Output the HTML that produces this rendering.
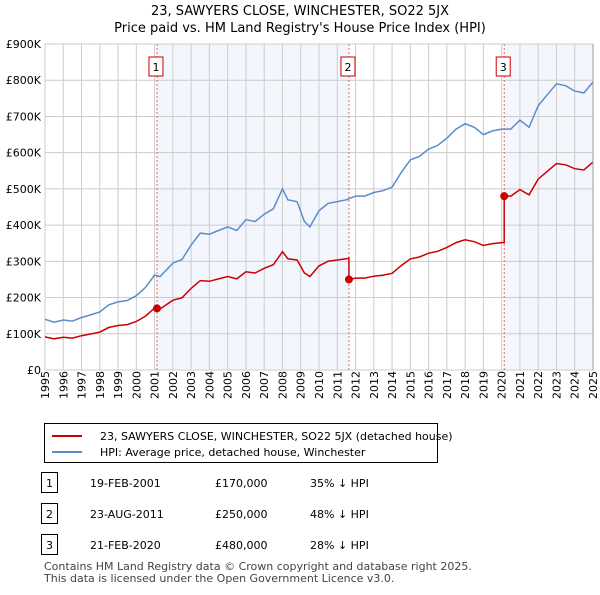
<!DOCTYPE html>
<html><head><meta charset="utf-8"><style>
body{margin:0;background:#fff;font-family:"Liberation Sans","DejaVu Sans",sans-serif;}
svg text{font-family:"DejaVu Sans","Liberation Sans",sans-serif;}
</style></head><body>
<svg id="c" width="600" height="590" xmlns="http://www.w3.org/2000/svg">
<text x="300" y="15" text-anchor="middle" font-size="13">23, SAWYERS CLOSE, WINCHESTER, SO22 5JX</text>
<text x="300" y="32" text-anchor="middle" font-size="13">Price paid vs. HM Land Registry's House Price Index (HPI)</text>
<g id="plot"></g>
<g>
<rect x="44.5" y="423.5" width="393" height="39" fill="#fff" stroke="#000"/>
<line x1="52" y1="436" x2="82" y2="436" stroke="#cc0000" stroke-width="2"/>
<text x="100" y="440" font-size="11">23, SAWYERS CLOSE, WINCHESTER, SO22 5JX (detached house)</text>
<line x1="52" y1="452" x2="82" y2="452" stroke="#5b8ccc" stroke-width="2"/>
<text x="100" y="456" font-size="11">HPI: Average price, detached house, Winchester</text>
</g>
<g id="table" font-size="11"></g>
<text x="44" y="570" font-size="11" fill="#444">Contains HM Land Registry data © Crown copyright and database right 2025.</text>
<text x="44" y="582" font-size="11" fill="#444">This data is licensed under the Open Government Licence v3.0.</text>
</svg>
<script>
const hpiYears=[1995,1995.5,1996,1996.5,1997,1997.5,1998,1998.5,1999,1999.5,2000,2000.5,2001,2001.3,2002,2002.5,2003,2003.5,2004,2004.5,2005,2005.5,2006,2006.5,2007,2007.5,2008,2008.3,2008.8,2009.2,2009.5,2010,2010.5,2011,2011.5,2012,2012.5,2013,2013.5,2014,2014.5,2015,2015.5,2016,2016.5,2017,2017.5,2018,2018.5,2019,2019.5,2020,2020.5,2021,2021.5,2022,2022.5,2023,2023.5,2024,2024.5,2025];
const hpiValues=[140,132,138,135,145,152,160,180,188,192,205,228,262,258,295,305,345,378,375,385,395,385,415,410,430,445,500,470,465,410,395,440,460,465,470,480,480,490,495,505,545,580,590,610,620,640,665,680,670,650,660,665,665,690,670,730,760,790,785,770,765,795];
const saleDates=[2001.13,2011.64,2020.14];
const salePrices=[170,250,480];
const saleLabels=["19-FEB-2001","23-AUG-2011","21-FEB-2020"];
const salePriceText=["£170,000","£250,000","£480,000"];
const saleDiff=["35% ↓ HPI","48% ↓ HPI","28% ↓ HPI"];
const yTicks=[0,100,200,300,400,500,600,700,800,900];
const yTickLabels=["£0","£100K","£200K","£300K","£400K","£500K","£600K","£700K","£800K","£900K"];
const X0=45,X1=593,Y0=370,Y1=44;
const xs=t=>X0+(t-1995)/30*(X1-X0);
const ys=v=>Y0-v/900*(Y0-Y1);
const NS="http://www.w3.org/2000/svg";
function mk(p,tag,at){const e=document.createElementNS(NS,tag);for(const k in at)e.setAttribute(k,at[k]);p.appendChild(e);return e;}
function hpiAt(t){for(let i=0;i<hpiYears.length-1;i++){if(t<=hpiYears[i+1]){const f=(t-hpiYears[i])/(hpiYears[i+1]-hpiYears[i]);return hpiValues[i]+f*(hpiValues[i+1]-hpiValues[i]);}}return hpiValues[hpiValues.length-1];}
const g=document.getElementById('plot');
// shading
const sh1=mk(g,'rect',{x:xs(saleDates[0]),y:Y1,width:xs(saleDates[1])-xs(saleDates[0]),height:Y0-Y1,fill:'#eef3fc',opacity:0.7});


const sh2=mk(g,'rect',{x:xs(saleDates[2]),y:Y1,width:X1-xs(saleDates[2]),height:Y0-Y1,fill:'#eef3fc',opacity:0.7});


// grid
for(let y=1995;y<=2025;y++){const l=mk(g,'line',{x1:xs(y),x2:xs(y),y1:Y1,y2:Y0,stroke:'#ccc'});


const t=mk(g,'text',{x:0,y:0,transform:`translate(${xs(y)+4},${Y0+29}) rotate(-90)`,'font-size':11});t.textContent=y;

}
yTicks.forEach((v,i)=>{const l=mk(g,'line',{x1:X0,x2:X1,y1:ys(v),y2:ys(v),stroke:'#ccc'});


const t=mk(g,'text',{x:X0-4,y:ys(v)+4,'text-anchor':'end','font-size':11});t.textContent=yTickLabels[i];

});
// sale vlines
saleDates.forEach((d,i)=>{const l=mk(g,'line',{x1:xs(d),x2:xs(d),y1:Y1,y2:Y0,stroke:'#f06060','stroke-dasharray':'2,2'});


const b=mk(g,'rect',{x:xs(d)-8,y:57,width:14,height:19,fill:'#fff',stroke:'#cc0000'});


const t=mk(g,'text',{x:xs(d)-1,y:71,'text-anchor':'middle','font-size':11});t.textContent=i+1;

});
// hpi line
const hp=mk(g,'path',{d:hpiYears.map((t,i)=>(i?'L':'M')+xs(t).toFixed(1)+','+ys(hpiValues[i]).toFixed(1)).join(''),fill:'none',stroke:'#5b8ccc','stroke-width':1.5});


// price line: indexed from each sale
let pts=[];
function ratioAt(t){let k=0;for(let i=0;i<saleDates.length;i++)if(t>=saleDates[i])k=i;return salePrices[k]/hpiAt(saleDates[k]);}
const times=[...hpiYears];saleDates.forEach(d=>{times.push(d-0.001);times.push(d);});times.sort((a,b)=>a-b);
times.forEach(t=>pts.push([xs(t),ys(hpiAt(t)*ratioAt(t))]));
const pp=mk(g,'path',{d:pts.map((p,i)=>(i?'L':'M')+p[0].toFixed(1)+','+p[1].toFixed(1)).join(''),fill:'none',stroke:'#cc0000','stroke-width':1.5});


saleDates.forEach((d,i)=>{const c=mk(g,'circle',{cx:xs(d),cy:ys(salePrices[i]),r:4,fill:'#cc0000'});

});
mk(g,'line',{x1:X1,x2:X1,y1:Y1,y2:Y0,stroke:'#999'});
// table
const tb=document.getElementById('table');
const rowY=[483,514,545];
saleDates.forEach((d,i)=>{const y=rowY[i];
const b=mk(tb,'rect',{x:41.5,y:y-10.5,width:16,height:20,fill:'#fff',stroke:'#000'});


const n=mk(tb,'text',{x:49.5,y:y+4,'text-anchor':'middle'});n.textContent=i+1;


const a=mk(tb,'text',{x:90,y:y+4});a.textContent=saleLabels[i];


const p=mk(tb,'text',{x:215,y:y+4});p.textContent=salePriceText[i];


const h=mk(tb,'text',{x:310,y:y+4});h.textContent=saleDiff[i];

});
</script>
</body></html>
